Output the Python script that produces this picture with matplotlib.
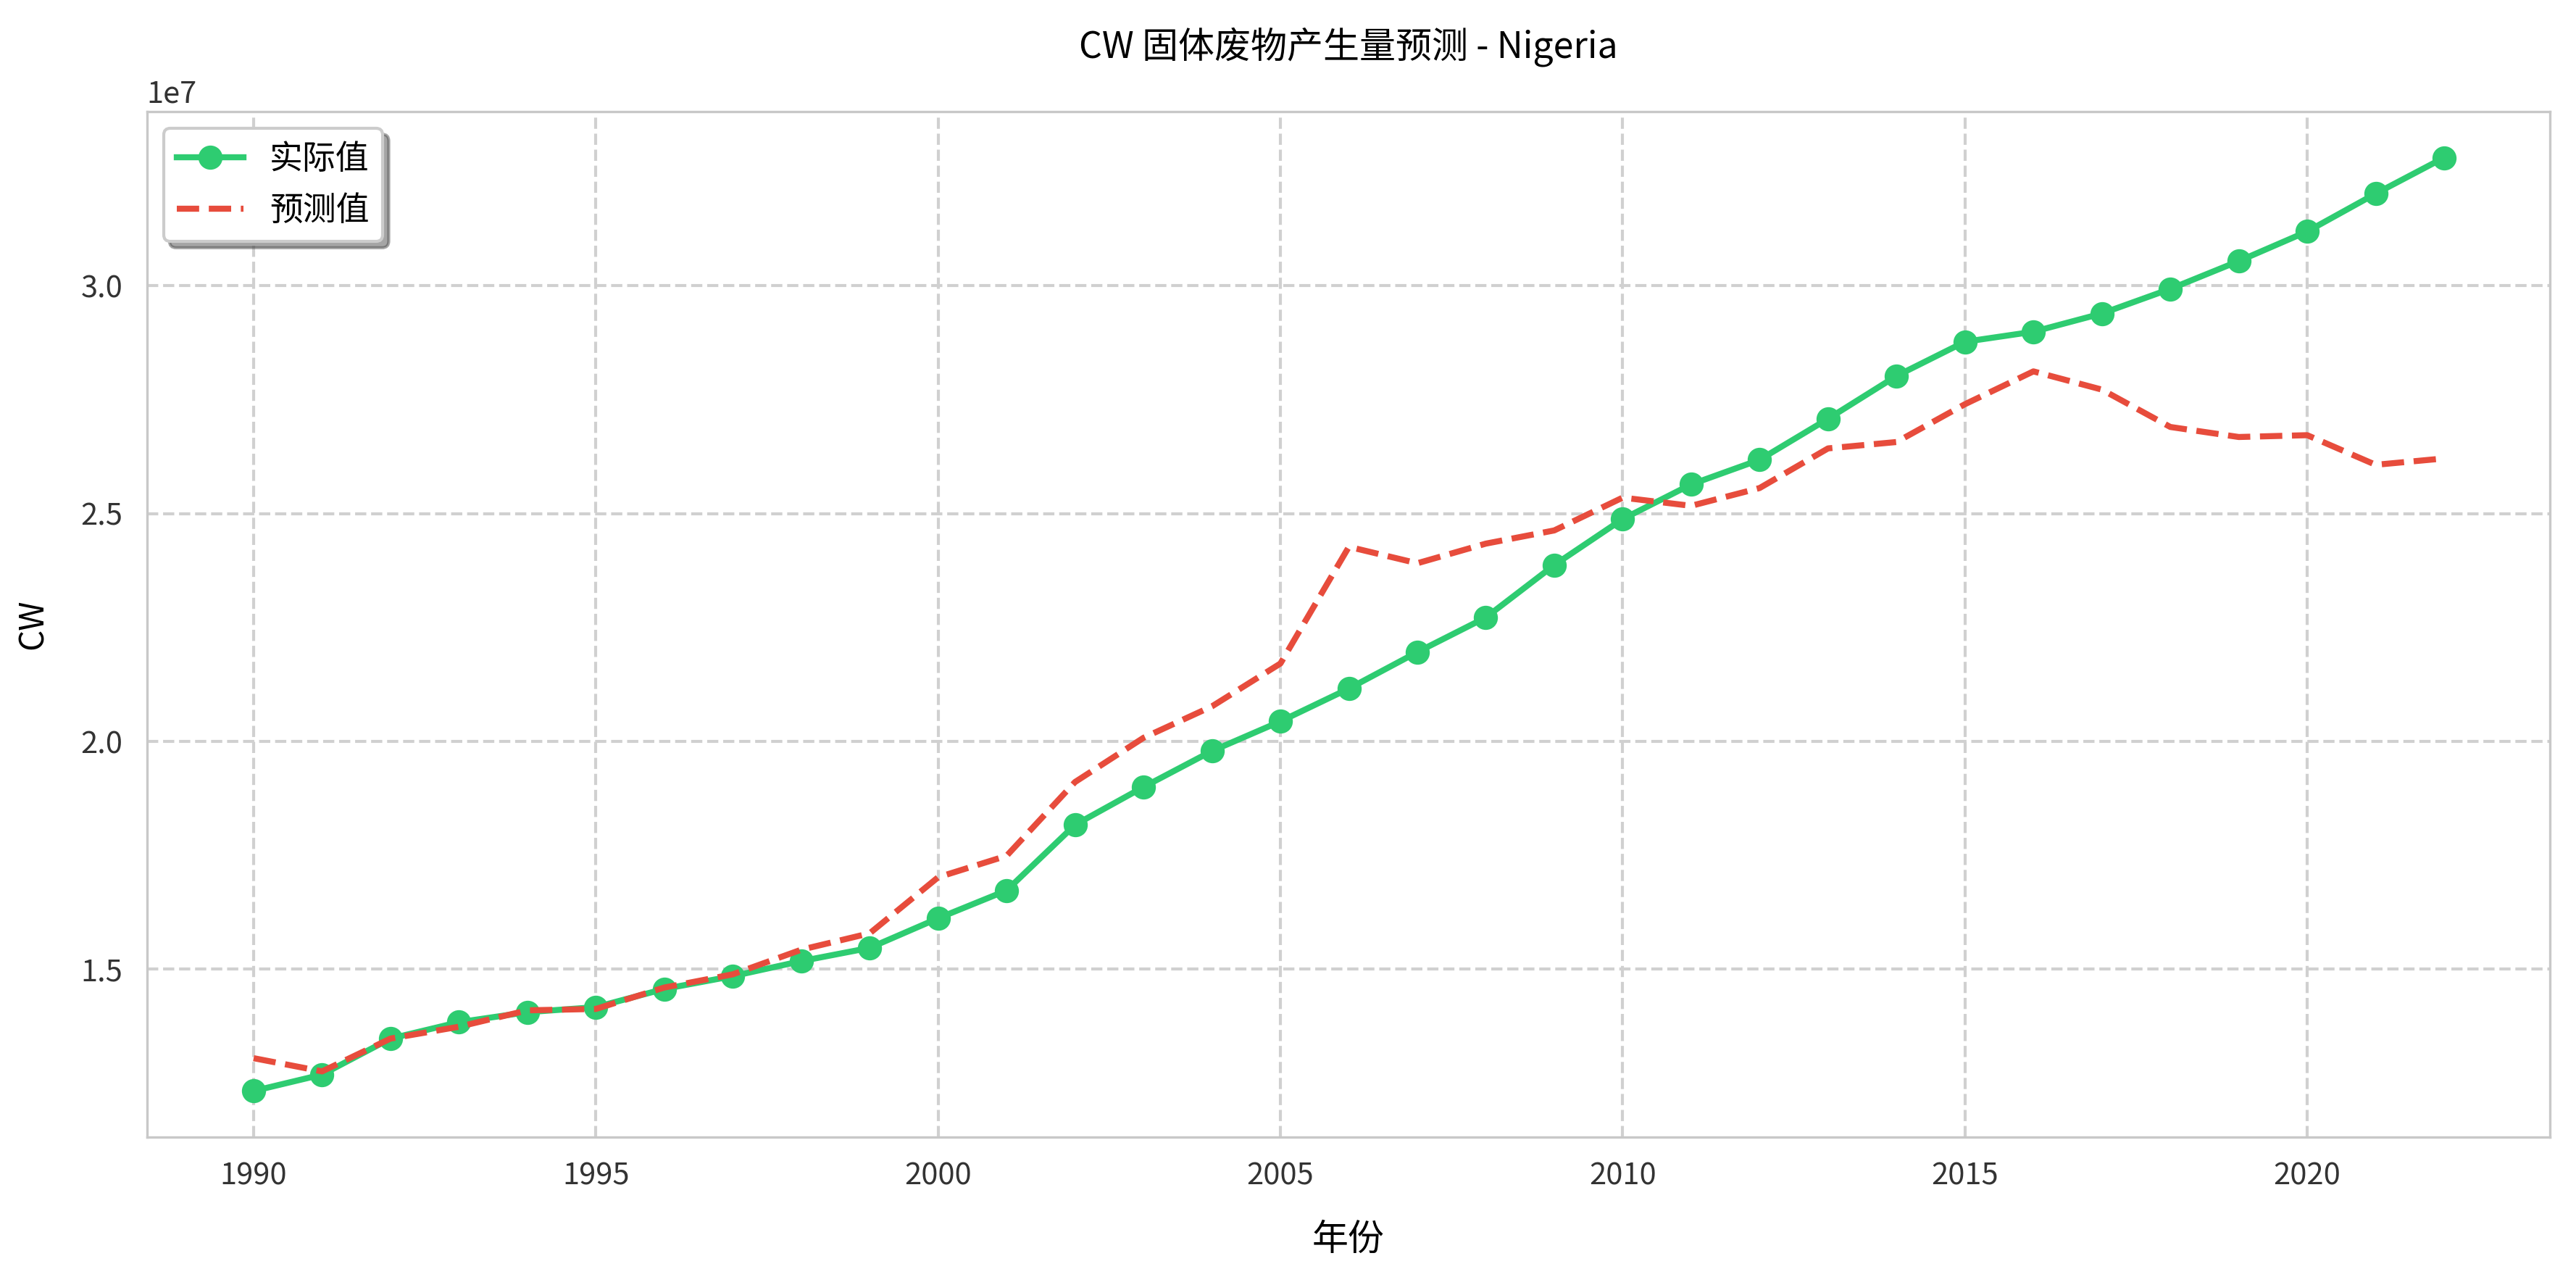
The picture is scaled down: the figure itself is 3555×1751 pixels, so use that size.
import numpy as np
import matplotlib.pyplot as plt

plt.rcParams['font.family'] = ['Noto Sans CJK SC', 'DejaVu Sans']
plt.rcParams['axes.unicode_minus'] = False

years = np.arange(1990, 2023)
actual = np.array([1.233, 1.269, 1.348, 1.384, 1.406, 1.417, 1.457, 1.485, 1.518, 1.547,
                   1.612, 1.673, 1.817, 1.900, 1.979, 2.044, 2.116, 2.196, 2.272, 2.387,
                   2.488, 2.564, 2.618, 2.708, 2.802, 2.877, 2.899, 2.939, 2.993, 3.054,
                   3.119, 3.202, 3.281]) * 1e7
predicted = np.array([1.305, 1.276, 1.348, 1.374, 1.410, 1.413, 1.460, 1.489, 1.543, 1.579,
                      1.702, 1.749, 1.911, 2.008, 2.077, 2.171, 2.427, 2.391, 2.434, 2.463,
                      2.535, 2.517, 2.556, 2.643, 2.657, 2.740, 2.812, 2.772, 2.690, 2.668,
                      2.672, 2.607, 2.621]) * 1e7

fig, ax = plt.subplots(figsize=(11.85, 5.837), dpi=300)
ax.plot(years, actual, color='#2ecc71', marker='o', markersize=7, linewidth=2, label='实际值')
ax.plot(years, predicted, color='#e74c3c', linestyle='--', linewidth=2, label='预测值')

ax.set_xlim(1988.44, 2023.55)
ax.set_ylim(1.132e7, 3.382e7)
ax.set_yticks([1.5e7, 2.0e7, 2.5e7, 3.0e7])
ax.grid(True, linestyle='--', color='#d0d0d0', linewidth=1)
for s in ax.spines.values():
    s.set_color('#c8c8c8')
ax.tick_params(colors='#333333', length=0, pad=8)

ax.set_title('CW 固体废物产生量预测 - Nigeria', fontsize=12, pad=18)
ax.set_xlabel('年份', fontsize=12, labelpad=10)
ax.set_ylabel('CW', fontsize=11, labelpad=10)
ax.legend(loc='upper left', shadow=True, fontsize=11, fancybox=True)

fig.subplots_adjust(left=0.057, right=0.990, top=0.912, bottom=0.104)
plt.savefig('out.png', dpi=300)
